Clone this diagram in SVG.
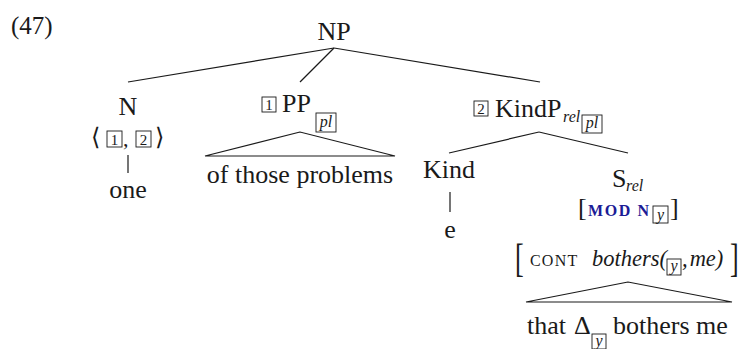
<svg xmlns="http://www.w3.org/2000/svg" width="748" height="349" viewBox="0 0 748 349">
  <style>
    text { font-family: "Liberation Serif", "Times New Roman", serif; fill: #1a1a1a; }
    .cat { font-size: 26px; }
    .sub { font-size: 16px; font-style: italic; }
    .tag { font-size: 15px; }
    .tagi { font-size: 16px; font-style: italic; }
    .it { font-size: 22.5px; font-style: italic; }
    .sc { font-size: 16px; letter-spacing: 1.2px; }
    .attr { font-size: 16px; font-weight: bold; letter-spacing: 1.6px; fill: #1c1c96; }
    .box { fill: none; stroke: #1a1a1a; stroke-width: 0.9; }
    .edge { fill: none; stroke: #1a1a1a; stroke-width: 1.2; }
  </style>

  <!-- example number -->
  <text id="exnum" class="cat" x="11" y="34" style="font-size:25px">(47)</text>

  <!-- tree edges and triangles -->
  <g id="connectors">
    <line class="edge" x1="334" y1="48" x2="128" y2="82"/>
    <line class="edge" x1="334" y1="48" x2="300" y2="82"/>
    <line class="edge" x1="334" y1="48" x2="540" y2="82"/>
    <line class="edge" x1="128" y1="155" x2="128" y2="173"/>
    <polygon class="edge" points="300,132 205,156 395,156"/>
    <line class="edge" x1="539" y1="132" x2="449" y2="153"/>
    <line class="edge" x1="539" y1="132" x2="628" y2="153"/>
    <line class="edge" x1="450" y1="192" x2="450" y2="212"/>
    <polygon class="edge" points="628,282 526,302 732,302"/>
  </g>

  <g id="np">
    <text class="cat" x="334" y="40" text-anchor="middle">NP</text>
  </g>

  <g id="n">
    <text class="cat" x="128" y="115" text-anchor="middle">N</text>
    <text class="cat" x="91" y="145" style="font-size:24px">⟨</text>
    <rect class="box" x="107" y="131" width="15" height="16"/>
    <text class="tag" x="114.5" y="144.5" text-anchor="middle">1</text>
    <text class="cat" x="123" y="146" style="font-size:22px">,</text>
    <rect class="box" x="136" y="131" width="15" height="16"/>
    <text class="tag" x="143.5" y="144.5" text-anchor="middle">2</text>
    <text class="cat" x="155" y="145" style="font-size:24px">⟩</text>
  </g>

  <g id="one">
    <text class="cat" x="128" y="198" text-anchor="middle">one</text>
  </g>

  <g id="pp">
    <rect class="box" x="262" y="97" width="14" height="15"/>
    <text class="tag" x="269" y="110" text-anchor="middle">1</text>
    <text class="cat" x="282" y="112">PP</text>
    <rect class="box" x="316" y="113" width="20" height="19"/>
    <text class="sub" x="326" y="127" text-anchor="middle">pl</text>
  </g>

  <g id="pp-yield">
    <text class="cat" x="300" y="183" text-anchor="middle">of those problems</text>
  </g>

  <g id="kindp">
    <rect class="box" x="474" y="101" width="14" height="15"/>
    <text class="tag" x="481" y="114" text-anchor="middle">2</text>
    <text class="cat" x="495" y="117">KindP</text>
    <text class="sub" x="563" y="122">rel</text>
    <rect class="box" x="582" y="115" width="20" height="18"/>
    <text class="sub" x="592" y="128" text-anchor="middle">pl</text>
  </g>

  <g id="kind">
    <text class="cat" x="449" y="178" text-anchor="middle">Kind</text>
  </g>

  <g id="e">
    <text class="cat" x="450" y="238" text-anchor="middle">e</text>
  </g>

  <g id="srel">
    <text class="cat" x="612" y="187">S</text>
    <text class="sub" x="626" y="191">rel</text>
    <text class="cat" x="578" y="216">[</text>
    <text class="attr" x="588" y="216">MOD N</text>
    <rect class="box" x="653" y="206" width="15" height="17"/>
    <text class="tagi" x="660.5" y="220" text-anchor="middle">y</text>
    <text class="cat" x="670" y="216">]</text>
  </g>

  <g id="cont">
    <text class="cat" transform="translate(515,272) scale(1,1.55)">[</text>
    <text class="sc" x="530" y="266">CONT</text>
    <text class="it" x="592" y="266">bothers(</text>
    <rect class="box" x="667" y="259" width="14" height="16"/>
    <text class="tagi" x="674" y="271" text-anchor="middle">y</text>
    <text class="it" x="682" y="266">,<tspan dx="2">me)</tspan></text>
    <text class="cat" transform="translate(730,272) scale(1,1.55)">]</text>
  </g>

  <g id="srel-yield">
    <text class="cat" x="527" y="334">that</text>
    <text class="cat" x="574" y="334">Δ</text>
    <rect class="box" x="592" y="334" width="14" height="15"/>
    <text class="tagi" x="599" y="346" text-anchor="middle">y</text>
    <text class="cat" x="613" y="334">bothers me</text>
  </g>
</svg>
